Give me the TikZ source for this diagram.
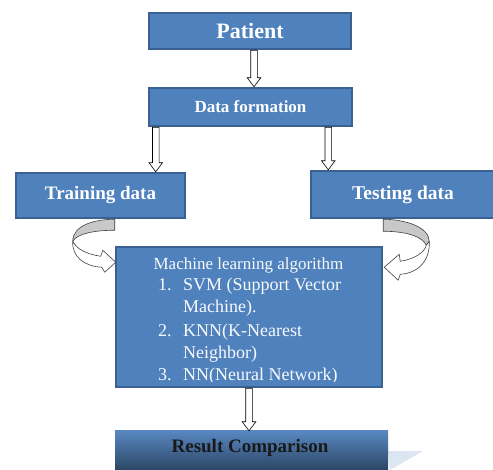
\documentclass[tikz,border=0pt]{standalone}
\usepackage{fontspec}
\setmainfont{Liberation Serif}
\usetikzlibrary{calc}

\definecolor{boxblue}{HTML}{4F81BD}
\definecolor{boxedge}{HTML}{3B6192}
\definecolor{ribbon}{HTML}{C8C8C8}
\definecolor{shadowblue}{HTML}{DCE6F2}

% hollow down arrow between two boxes, x taken from the start point
\newcommand{\blockarrow}[2]{%
  \draw[blockarr] let \p1=(#1), \p2=(#2) in
    (\x1-3.3pt,\y1) -- (\x1+3.3pt,\y1) -- (\x1+3.3pt,\y2+9pt) -- (\x1+6.8pt,\y2+9pt)
    -- (\x1,\y2) -- (\x1-6.8pt,\y2+9pt) -- (\x1-3.3pt,\y2+9pt) -- cycle;}

\begin{document}
\begin{tikzpicture}[x=1pt,y=-1pt,
    bluebox/.style={draw=boxedge, line width=2.5pt, fill=boxblue, text=white, inner sep=0pt},
    blockarr/.style={draw=black, line width=0.6pt, fill=white},
    curlarrow/.style={draw=black!75, line width=0.6pt, line join=round},
    mltext/.style={text=white!96!boxblue, font=\fontsize{18}{21}\selectfont, inner sep=0pt}]
    \path[use as bounding box, clip] (0,0) rectangle (493,470);
    %\draw[gray] (0,0) grid[step=20] (493,470);

    \node[bluebox, minimum width=202pt, minimum height=36pt, font=\fontsize{22}{25}\selectfont\bfseries] (pat) at (250,31) {Patient};
    \node[bluebox, minimum width=203pt, minimum height=38pt, font=\fontsize{17}{20}\selectfont\bfseries] (data) at (250.5,107) {Data formation};
    \node[bluebox, minimum width=169pt, minimum height=45pt, font=\fontsize{19}{22}\selectfont\bfseries] (train) at (100.5,195.5) {Training data};
    \node[bluebox, minimum width=184pt, minimum height=47pt, font=\fontsize{19.5}{22}\selectfont\bfseries] (test) at (403,194.5) {Testing data};
    \node[bluebox, minimum width=266pt, minimum height=140pt] (ml) at (249,317) {};

    \fill[shadowblue] (388,451) -- (423,451) -- (390,470) -- cycle;
    \node[top color=boxblue!95!white, bottom color=boxblue!45!black, minimum width=273pt, minimum height=46pt, inner sep=0pt] (res) at (251.5,454) {};
    \node[text=black!90, font=\fontsize{19}{22}\selectfont\bfseries] (restext) at (250,448) {Result Comparison};

    % list inside the algorithm box, last line is cut by the box
    \begin{scope}
        \clip (115,246) rectangle (383,382);
        \node[mltext, anchor=base, font=\fontsize{17}{20}\selectfont] (mlhead) at (248.5,270) {Machine learning algorithm};
        \node[mltext, anchor=base west] (n1) at (158,291) {1.};
        \node[mltext, anchor=base west] (svm) at (183,291) {SVM (Support Vector};
        \node[mltext, anchor=base west] (svmb) at (183,313) {Machine).};
        \node[mltext, anchor=base west] (n2) at (158,337) {2.};
        \node[mltext, anchor=base west] (knn) at (183,337) {KNN(K-Nearest};
        \node[mltext, anchor=base west] (knnb) at (183,359) {Neighbor)};
        \node[mltext, anchor=base west] (n3) at (158,381) {3.};
        \node[mltext, anchor=base west] (nn) at (183,381) {NN(Neural Network)};
    \end{scope}

    \blockarrow{[xshift=4pt]pat.south}{data.north}
    \blockarrow{[xshift=8pt]data.south west}{train.north}
    \blockarrow{[xshift=-25pt]data.south east}{test.north}
    \blockarrow{ml.south}{res.north}

    % curved arrows into the algorithm box
    \begin{scope}[shift={(ml.west |- train.south)}]
        \filldraw[curlarrow, fill=ribbon] (0,0) .. controls (-20,0) and (-42,6) .. (-42,22)
            .. controls (-38,15) and (-22,11) .. (0,11) -- cycle;
        \filldraw[curlarrow, fill=white] (-42,22) .. controls (-43,38) and (-30,47) .. (-13,48)
            -- (-10,53) -- (1,43) -- (-12,31) -- (-14,37) .. controls (-28,35) and (-38,30) .. (-42,22) -- cycle;
    \end{scope}
    \begin{scope}[shift={(ml.east |- test.south)}]
        \filldraw[curlarrow, fill=ribbon] (0,0) .. controls (22,0) and (46,8) .. (46,22)
            -- (43,26) .. controls (40,18) and (24,12) .. (0,12) -- cycle;
        \filldraw[curlarrow, fill=white] (46,22) .. controls (47,40) and (36,54) .. (17,55)
            -- (15,61) -- (1,48) -- (16,35) -- (17,42) .. controls (32,40) and (42,32) .. (43,26) -- cycle;
    \end{scope}
\end{tikzpicture}
\end{document}
